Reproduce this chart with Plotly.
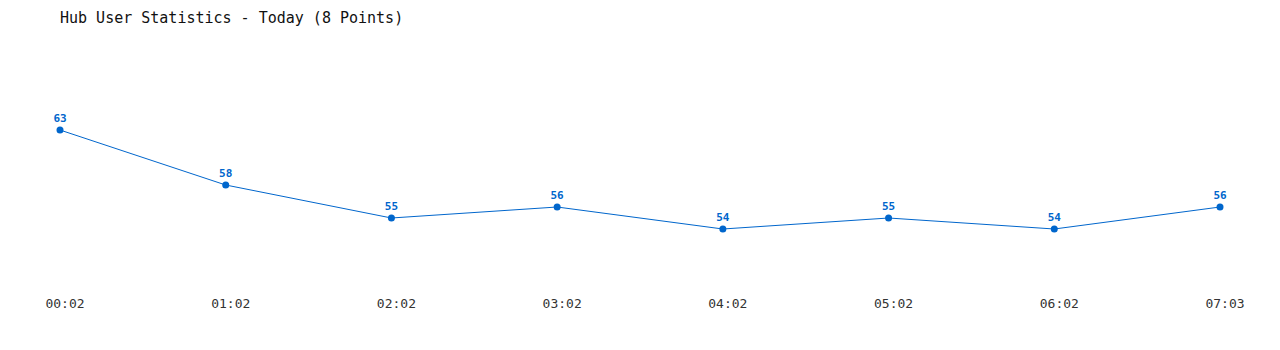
import plotly.graph_objects as go

times = ["00:02", "01:02", "02:02", "03:02", "04:02", "05:02", "06:02", "07:03"]
users = [63, 58, 55, 56, 54, 55, 54, 56]
title_text = "Hub User Statistics - Today (8 Points)"

color = "#0066cc"
xs = list(range(len(times)))

fig = go.Figure()
fig.add_trace(go.Scatter(
    x=xs, y=users, mode="lines+markers+text",
    line=dict(color=color, width=1),
    marker=dict(color=color, size=7),
    text=[str(v) for v in users],
    textposition="top center",
    textfont=dict(family="DejaVu Sans Mono", size=11, color=color, weight="bold"),
    cliponaxis=False,
    hoverinfo="skip",
))

fig.update_layout(
    width=1280, height=350,
    margin=dict(l=60, r=60, t=86, b=77),
    paper_bgcolor="white", plot_bgcolor="white",
    showlegend=False,
    title=dict(text=title_text, x=60/1280, xanchor="left", y=1-18/350, yanchor="middle",
               font=dict(family="DejaVu Sans Mono", size=15, color="#111111")),
    xaxis=dict(range=[0, 7], tickvals=xs, ticktext=times, showgrid=False, zeroline=False,
               showline=False, ticks="outside", ticklen=18, tickcolor="white",
               ticklabelshift=5,
               tickfont=dict(family="DejaVu Sans Mono", size=13, color="#333333")),
    yaxis=dict(range=[50, 67], showgrid=False, zeroline=False, showline=False,
               showticklabels=False),
)

fig.write_html("out.html")
